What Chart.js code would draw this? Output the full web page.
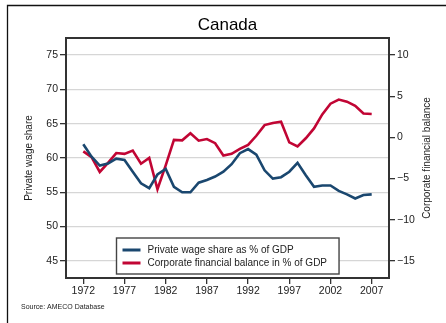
<!DOCTYPE html>
<html>
<head>
<meta charset="utf-8">
<script src="https://cdn.jsdelivr.net/npm/chart.js@4.4.1/dist/chart.umd.min.js"></script>
<style>
  html, body { margin: 0; padding: 0; background: #fff; }
  canvas { display: block; }
</style>
</head>
<body>
<canvas id="c" width="446" height="323"></canvas>
<script>
// Canada: private wage share vs corporate financial balance (AMECO)
const years = [1972, 1973, 1974, 1975, 1976, 1977, 1978, 1979, 1980, 1981,
               1982, 1983, 1984, 1985, 1986, 1987, 1988, 1989, 1990, 1991,
               1992, 1993, 1994, 1995, 1996, 1997, 1998, 1999, 2000, 2001,
               2002, 2003, 2004, 2005, 2006, 2007];

const wageShare = [62.0, 60.2, 58.9, 59.2, 59.9, 59.7, 58.0, 56.3, 55.6, 57.6,
                   58.4, 55.8, 55.0, 55.0, 56.4, 56.8, 57.3, 58.0, 59.1, 60.7,
                   61.3, 60.5, 58.2, 57.0, 57.2, 58.0, 59.3, 57.5, 55.8, 56.0,
                   56.0, 55.2, 54.7, 54.1, 54.6, 54.7];

const corpBalance = [-1.7, -2.4, -4.2, -3.1, -1.9, -2.0, -1.6, -3.2, -2.5, -6.3,
                     -3.4, -0.3, -0.35, 0.5, -0.4, -0.2, -0.7, -2.2, -2.0, -1.4,
                     -0.9, 0.2, 1.5, 1.75, 1.9, -0.6, -1.1, -0.1, 1.1, 2.8,
                     4.1, 4.6, 4.35, 3.85, 2.9, 2.85];

const xTicks = [1972, 1977, 1982, 1987, 1992, 1997, 2002, 2007];
const leftTicks = [45, 50, 55, 60, 65, 70, 75];
const rightTicks = [-15, -10, -5, 0, 5, 10];

const seriesLabels = ['Private wage share as % of GDP', 'Corporate financial balance in % of GDP'];
const seriesColors = ['#1a476f', '#c10534'];

const FONT = "'Liberation Sans', Arial, Helvetica, sans-serif";
const INK = '#222';

function fixedTicks(values) {
  return function (scale) { scale.ticks = values.map(v => ({ value: v })); };
}

// Page frame, title, axis titles, source note, plot border and legend
const decorations = {
  id: 'decorations',
  beforeDraw(chart) {
    const ctx = chart.ctx;
    ctx.save();
    ctx.fillStyle = '#fff';
    ctx.fillRect(0, 0, chart.width, chart.height);
    ctx.strokeStyle = '#111';
    ctx.lineWidth = 1.3;
    ctx.beginPath();
    ctx.moveTo(7.5, chart.height);
    ctx.lineTo(7.5, 5.5);
    ctx.lineTo(chart.width, 5.5);
    ctx.stroke();
    ctx.restore();
  },
  afterDatasetsDraw(chart) {
    const ctx = chart.ctx;
    const a = chart.chartArea;
    ctx.save();

    // plot border
    ctx.strokeStyle = '#333';
    ctx.lineWidth = 2;
    ctx.strokeRect(a.left, a.top, a.right - a.left, a.bottom - a.top);

    // title
    ctx.fillStyle = '#000';
    ctx.textAlign = 'center';
    ctx.textBaseline = 'middle';
    ctx.font = '17px ' + FONT;
    ctx.fillText('Canada', (a.left + a.right) / 2, 25);

    // axis titles
    ctx.font = '10px ' + FONT;
    ctx.fillStyle = INK;
    ctx.save();
    ctx.translate(29.5, (a.top + a.bottom) / 2);
    ctx.rotate(-Math.PI / 2);
    ctx.fillText('Private wage share', 0, 0);
    ctx.restore();
    ctx.save();
    ctx.translate(427, (a.top + a.bottom) / 2);
    ctx.rotate(-Math.PI / 2);
    ctx.fillText('Corporate financial balance', 0, 0);
    ctx.restore();

    // source note
    ctx.textAlign = 'left';
    ctx.font = '7px ' + FONT;
    ctx.fillStyle = '#222';
    ctx.fillText('Source: AMECO Database', 21, 307);

    // legend
    ctx.font = '10px ' + FONT;
    const labels = chart.data.datasets.map(d => d.label);
    const textW = Math.max(...labels.map(t => ctx.measureText(t).width));
    const w = 31 + textW + 12;
    const h = 36;
    const cx = (a.left + a.right) / 2;
    const bx = Math.round(cx - w / 2) + 0.5;
    const by = a.bottom - 4 - h;
    ctx.fillStyle = '#fff';
    ctx.fillRect(bx, by, w, h);
    ctx.strokeStyle = '#444';
    ctx.lineWidth = 1.4;
    ctx.strokeRect(bx, by, w, h);
    chart.data.datasets.forEach((ds, i) => {
      const yy = by + 12 + i * 13;
      ctx.strokeStyle = ds.borderColor;
      ctx.lineWidth = 3;
      ctx.beginPath();
      ctx.moveTo(bx + 6, yy);
      ctx.lineTo(bx + 24, yy);
      ctx.stroke();
      ctx.fillStyle = INK;
      ctx.textBaseline = 'middle';
      ctx.fillText(ds.label, bx + 31, yy + 0.5);
    });
    ctx.restore();
  }
};

new Chart(document.getElementById('c'), {
  type: 'line',
  data: {
    datasets: [
      {
        label: seriesLabels[0],
        data: years.map((y, i) => ({ x: y, y: wageShare[i] })),
        borderColor: seriesColors[0],
        borderWidth: 2.6,
        pointRadius: 0,
        tension: 0,
        yAxisID: 'y'
      },
      {
        label: seriesLabels[1],
        data: years.map((y, i) => ({ x: y, y: corpBalance[i] })),
        borderColor: seriesColors[1],
        borderWidth: 2.6,
        pointRadius: 0,
        tension: 0,
        yAxisID: 'y1'
      }
    ]
  },
  options: {
    responsive: false,
    devicePixelRatio: 1,
    animation: false,
    layout: { padding: { left: 20, right: 0, top: 38, bottom: 25 } },
    plugins: {
      legend: { display: false },
      title: { display: false },
      tooltip: { enabled: false }
    },
    scales: {
      x: {
        type: 'linear',
        min: 1969.9,
        max: 2009.1,
        afterBuildTicks: fixedTicks(xTicks),
        afterFit(scale) { scale.height = 20; },
        border: { display: false },
        grid: { drawOnChartArea: false, color: '#333', tickColor: '#333', tickLength: 6, lineWidth: 1.3 },
        ticks: {
          autoSkip: false, maxRotation: 0, padding: 1,
          color: INK, font: { family: FONT, size: 10.5 },
          callback: v => String(v)
        }
      },
      y: {
        position: 'left',
        min: 42.5,
        max: 77.5,
        afterBuildTicks: fixedTicks(leftTicks),
        afterFit(scale) { scale.width = 46; },
        border: { display: false },
        grid: { color: '#d6d6d6', lineWidth: 1.3, tickColor: '#333', tickLength: 6 },
        ticks: { padding: 2, color: INK, font: { family: FONT, size: 10.5 } }
      },
      y1: {
        position: 'right',
        min: -17.0833,
        max: 12.0833,
        afterBuildTicks: fixedTicks(rightTicks),
        afterFit(scale) { scale.width = 57; },
        border: { display: false },
        grid: { drawOnChartArea: false, color: '#333', tickColor: '#333', tickLength: 6, lineWidth: 1.3 },
        ticks: {
          padding: 2, color: INK, font: { family: FONT, size: 10.5 },
          callback: v => (v < 0 ? '\u2212' + Math.abs(v) : String(v))
        }
      }
    }
  },
  plugins: [decorations]
});
</script>
</body>
</html>
